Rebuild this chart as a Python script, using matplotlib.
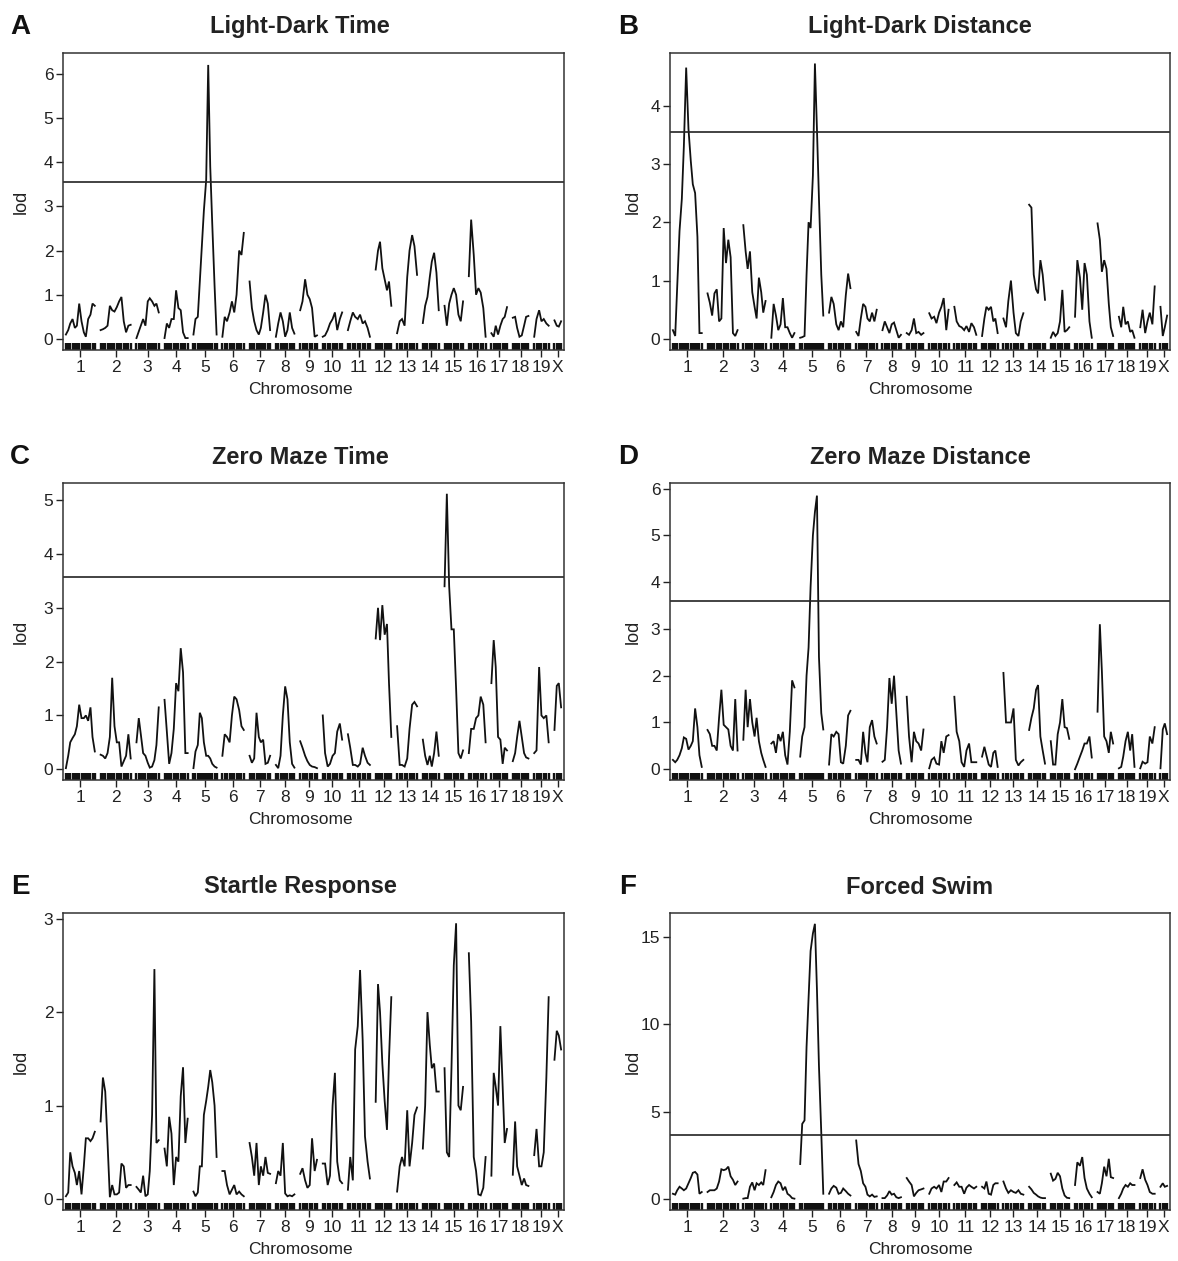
import matplotlib
matplotlib.use("Agg")
import matplotlib.pyplot as plt
from matplotlib.transforms import blended_transform_factory

plt.rcParams['font.family'] = ['Liberation Sans', 'DejaVu Sans']

# ---------------- data ----------------
chrom_names = ['1', '2', '3', '4', '5', '6', '7', '8', '9', '10',
               '11', '12', '13', '14', '15', '16', '17', '18', '19', 'X']
chrom_len = [100, 104, 77, 80, 80, 74, 71, 64, 58, 67,
             76, 54, 69, 55, 64, 58, 54, 54, 50, 23]
gap = 20

marker_pos = [
    [0, 8, 15, 23, 31, 38, 46, 54, 62, 69, 77, 85, 92, 100],
    [0, 8, 16, 24, 32, 40, 48, 56, 64, 72, 80, 88, 96, 104],
    [0, 8, 15, 23, 31, 39, 46, 54, 62, 69, 77],
    [0, 8, 16, 24, 32, 40, 48, 56, 64, 72, 80],
    [0, 7, 15, 22, 29, 36, 44, 51, 58, 65, 73, 80],
    [0, 8, 16, 25, 33, 41, 49, 58, 66, 74],
    [0, 8, 16, 24, 32, 39, 47, 55, 63, 71],
    [0, 8, 16, 24, 32, 40, 48, 56, 64],
    [0, 8, 17, 25, 33, 41, 50, 58],
    [0, 8, 17, 25, 34, 42, 50, 59, 67],
    [0, 8, 17, 25, 34, 42, 51, 59, 68, 76],
    [0, 8, 15, 23, 31, 39, 46, 54],
    [0, 9, 17, 26, 35, 43, 52, 60, 69],
    [0, 8, 16, 24, 31, 39, 47, 55],
    [0, 8, 16, 24, 32, 40, 48, 56, 64],
    [0, 8, 17, 25, 33, 41, 50, 58],
    [0, 8, 15, 23, 31, 39, 46, 54],
    [0, 8, 15, 23, 31, 39, 46, 54],
    [0, 8, 17, 25, 33, 42, 50],
    [0, 8, 15, 23],
]

lod_A = [
    [0.1, 0.2, 0.35, 0.45, 0.25, 0.3, 0.8, 0.4, 0.15, 0.05, 0.45, 0.55, 0.8, 0.75],
    [0.2, 0.22, 0.25, 0.3, 0.75, 0.65, 0.62, 0.72, 0.85, 0.95, 0.4, 0.15, 0.3, 0.32],
    [0.02, 0.17, 0.3, 0.45, 0.3, 0.85, 0.92, 0.85, 0.75, 0.8, 0.6],
    [0.02, 0.35, 0.25, 0.45, 0.45, 1.1, 0.7, 0.65, 0.15, 0.02, 0.02],
    [0.1, 0.45, 0.5, 1.3, 2.1, 2.9, 3.6, 6.2, 3.9, 2.6, 1.2, 0.1],
    [0.05, 0.5, 0.4, 0.6, 0.85, 0.6, 1.0, 2.0, 1.9, 2.4],
    [1.3, 0.7, 0.4, 0.2, 0.1, 0.25, 0.6, 1.0, 0.8, 0.2],
    [0.05, 0.35, 0.6, 0.4, 0.05, 0.2, 0.6, 0.25, 0.12],
    [0.65, 0.85, 1.35, 1.0, 0.9, 0.7, 0.05, 0.08],
    [0.05, 0.08, 0.2, 0.35, 0.45, 0.6, 0.2, 0.45, 0.6],
    [0.2, 0.4, 0.6, 0.5, 0.45, 0.55, 0.35, 0.4, 0.25, 0.05],
    [1.57, 2.0, 2.2, 1.6, 1.35, 1.1, 1.3, 0.75],
    [0.13, 0.4, 0.45, 0.3, 1.4, 2.0, 2.35, 2.1, 1.45],
    [0.36, 0.75, 0.95, 1.4, 1.75, 1.95, 1.5, 0.65],
    [0.75, 0.3, 0.8, 1.0, 1.15, 1.0, 0.55, 0.4, 0.85],
    [1.42, 2.7, 1.9, 1.0, 1.15, 1.05, 0.7, 0.05],
    [0.13, 0.05, 0.3, 0.1, 0.3, 0.45, 0.5, 0.72],
    [0.48, 0.5, 0.25, 0.05, 0.08, 0.3, 0.5, 0.52],
    [0.05, 0.45, 0.65, 0.4, 0.45, 0.35, 0.3],
    [0.42, 0.3, 0.28, 0.4],
]

lod_B = [
    [0.15, 0.05, 0.9, 1.85, 2.4, 3.3, 4.65, 3.6, 3.05, 2.65, 2.5, 1.75, 0.1, 0.1],
    [0.78, 0.62, 0.4, 0.78, 0.85, 0.3, 0.35, 1.9, 1.3, 1.7, 1.4, 0.1, 0.05, 0.15],
    [1.95, 1.5, 1.2, 1.5, 0.8, 0.55, 0.35, 1.05, 0.8, 0.45, 0.65],
    [0.02, 0.6, 0.4, 0.15, 0.25, 0.7, 0.2, 0.2, 0.1, 0.02, 0.1],
    [0.02, 0.03, 0.05, 1.1, 2.0, 1.9, 2.8, 4.72, 3.6, 2.4, 1.1, 0.4],
    [0.45, 0.72, 0.6, 0.25, 0.15, 0.3, 0.2, 0.75, 1.12, 0.87],
    [0.12, 0.05, 0.35, 0.6, 0.55, 0.35, 0.3, 0.45, 0.3, 0.5],
    [0.15, 0.3, 0.2, 0.1, 0.25, 0.28, 0.15, 0.02, 0.07],
    [0.1, 0.07, 0.15, 0.35, 0.1, 0.12, 0.07, 0.1],
    [0.44, 0.35, 0.38, 0.27, 0.45, 0.55, 0.7, 0.15, 0.5],
    [0.55, 0.3, 0.22, 0.2, 0.15, 0.22, 0.12, 0.27, 0.2, 0.07],
    [0.05, 0.35, 0.55, 0.5, 0.55, 0.3, 0.35, 0.1],
    [0.35, 0.2, 0.65, 1.0, 0.45, 0.1, 0.05, 0.3, 0.44],
    [2.3, 2.25, 1.1, 0.85, 0.78, 1.35, 1.1, 0.67],
    [0.02, 0.12, 0.05, 0.1, 0.3, 0.84, 0.12, 0.15, 0.2],
    [0.38, 1.35, 1.05, 0.5, 1.3, 1.1, 0.3, 0.02],
    [1.98, 1.7, 1.15, 1.35, 1.2, 0.6, 0.2, 0.05],
    [0.38, 0.2, 0.55, 0.25, 0.3, 0.12, 0.15, 0.02],
    [0.2, 0.5, 0.1, 0.3, 0.45, 0.25, 0.9],
    [0.55, 0.05, 0.2, 0.4],
]

lod_C = [
    [0.02, 0.25, 0.5, 0.58, 0.65, 0.8, 1.2, 0.95, 0.95, 1.0, 0.9, 1.15, 0.6, 0.33],
    [0.27, 0.25, 0.2, 0.3, 0.6, 1.7, 0.8, 0.5, 0.5, 0.05, 0.15, 0.25, 0.65, 0.2],
    [0.5, 0.95, 0.65, 0.3, 0.25, 0.12, 0.03, 0.05, 0.17, 0.45, 1.15],
    [1.29, 0.7, 0.1, 0.3, 0.75, 1.6, 1.45, 2.25, 1.8, 0.3, 0.3],
    [0.02, 0.33, 0.45, 1.05, 0.95, 0.5, 0.25, 0.25, 0.2, 0.1, 0.05, 0.03],
    [0.25, 0.65, 0.6, 0.5, 1.0, 1.35, 1.3, 1.1, 0.8, 0.73],
    [0.25, 0.12, 0.2, 1.05, 0.6, 0.5, 0.55, 0.1, 0.12, 0.25],
    [0.08, 0.02, 0.25, 1.0, 1.54, 1.3, 0.5, 0.1, 0.03],
    [0.52, 0.4, 0.25, 0.15, 0.08, 0.05, 0.04, 0.02],
    [1.0, 0.3, 0.05, 0.1, 0.25, 0.3, 0.7, 0.85, 0.55],
    [0.65, 0.4, 0.08, 0.08, 0.05, 0.1, 0.4, 0.25, 0.12, 0.08],
    [2.43, 3.0, 2.4, 3.05, 2.5, 2.7, 1.6, 0.6],
    [0.8, 0.08, 0.08, 0.05, 0.2, 0.75, 1.2, 1.25, 1.17],
    [0.55, 0.25, 0.08, 0.25, 0.05, 0.3, 0.7, 0.25],
    [3.4, 5.12, 3.4, 2.6, 2.6, 1.5, 0.3, 0.2, 0.35],
    [0.3, 0.75, 0.75, 0.95, 1.0, 1.35, 1.2, 0.5],
    [1.6, 2.4, 1.9, 0.6, 0.55, 0.1, 0.4, 0.35],
    [0.15, 0.3, 0.6, 0.9, 0.6, 0.3, 0.22, 0.2],
    [0.3, 0.35, 1.9, 1.0, 0.95, 1.0, 0.5],
    [0.73, 1.55, 1.6, 1.15],
]

lod_D = [
    [0.2, 0.15, 0.2, 0.3, 0.45, 0.68, 0.65, 0.42, 0.5, 0.6, 1.3, 0.9, 0.3, 0.05],
    [0.84, 0.75, 0.5, 0.5, 0.4, 1.1, 1.7, 0.95, 0.9, 0.85, 0.5, 0.4, 1.5, 0.4],
    [0.63, 1.7, 0.9, 1.5, 1.0, 0.7, 1.1, 0.6, 0.35, 0.2, 0.05],
    [0.55, 0.6, 0.35, 0.75, 0.6, 0.8, 0.3, 0.1, 0.8, 1.9, 1.75],
    [0.27, 0.7, 0.9, 2.0, 2.6, 3.9, 5.0, 5.5, 5.85, 2.4, 1.2, 0.85],
    [0.1, 0.75, 0.7, 0.8, 0.75, 0.15, 0.12, 0.5, 1.15, 1.25],
    [0.2, 0.2, 0.1, 0.8, 0.35, 0.15, 0.9, 1.05, 0.7, 0.55],
    [0.16, 0.2, 0.9, 1.95, 1.4, 2.0, 1.2, 0.4, 0.12],
    [1.55, 0.7, 0.15, 0.8, 0.6, 0.55, 0.4, 0.85],
    [0.02, 0.2, 0.25, 0.12, 0.1, 0.6, 0.35, 0.7, 0.73],
    [1.55, 0.8, 0.6, 0.15, 0.05, 0.4, 0.55, 0.15, 0.15, 0.15],
    [0.27, 0.48, 0.3, 0.1, 0.05, 0.35, 0.4, 0.05],
    [2.06, 1.0, 1.0, 1.0, 1.3, 0.2, 0.08, 0.15, 0.2],
    [0.84, 1.1, 1.3, 1.7, 1.8, 0.7, 0.4, 0.12],
    [0.6, 0.1, 0.1, 0.75, 1.0, 1.5, 0.9, 0.88, 0.65],
    [0.0, 0.12, 0.27, 0.4, 0.55, 0.55, 0.7, 0.25],
    [1.23, 3.1, 2.1, 0.7, 0.6, 0.35, 0.8, 0.55],
    [0.02, 0.05, 0.27, 0.6, 0.8, 0.4, 0.75, 0.05],
    [0.02, 0.16, 0.12, 0.15, 0.7, 0.55, 0.9],
    [0.02, 0.85, 0.98, 0.75],
]

lod_E = [
    [0.03, 0.07, 0.5, 0.35, 0.28, 0.15, 0.3, 0.05, 0.35, 0.65, 0.65, 0.62, 0.65, 0.72],
    [0.83, 1.3, 1.15, 0.6, 0.02, 0.15, 0.05, 0.05, 0.07, 0.38, 0.35, 0.12, 0.15, 0.15],
    [0.13, 0.1, 0.07, 0.25, 0.03, 0.05, 0.3, 0.9, 2.46, 0.6, 0.63],
    [0.54, 0.35, 0.88, 0.7, 0.15, 0.45, 0.4, 1.1, 1.41, 0.6, 0.86],
    [0.08, 0.03, 0.07, 0.35, 0.35, 0.9, 1.05, 1.2, 1.38, 1.25, 1.0, 0.45],
    [0.3, 0.3, 0.15, 0.05, 0.1, 0.15, 0.05, 0.08, 0.05, 0.03],
    [0.6, 0.45, 0.25, 0.6, 0.15, 0.35, 0.25, 0.45, 0.28, 0.27],
    [0.17, 0.3, 0.25, 0.6, 0.06, 0.03, 0.04, 0.03, 0.05],
    [0.27, 0.33, 0.2, 0.12, 0.15, 0.65, 0.3, 0.42],
    [0.38, 0.38, 0.15, 0.25, 1.0, 1.35, 0.4, 0.2, 0.17],
    [0.1, 0.45, 0.2, 1.6, 1.85, 2.45, 1.7, 0.67, 0.4, 0.22],
    [1.04, 2.3, 2.0, 1.45, 1.05, 0.74, 1.5, 2.16],
    [0.08, 0.35, 0.45, 0.35, 0.95, 0.35, 0.6, 0.9, 0.98],
    [0.54, 1.0, 2.0, 1.65, 1.4, 1.45, 1.15, 1.15],
    [1.4, 0.5, 0.45, 1.4, 2.5, 2.95, 1.0, 0.95, 1.2],
    [2.63, 1.9, 0.45, 0.3, 0.05, 0.04, 0.12, 0.45],
    [0.25, 1.35, 1.2, 1.0, 1.85, 1.2, 0.6, 0.75],
    [0.26, 0.83, 0.35, 0.25, 0.15, 0.22, 0.15, 0.14],
    [0.47, 0.75, 0.35, 0.35, 0.5, 1.3, 2.16],
    [1.49, 1.8, 1.75, 1.6],
]

lod_F = [
    [0.3, 0.25, 0.5, 0.7, 0.6, 0.5, 0.6, 0.9, 1.2, 1.5, 1.55, 1.4, 0.3, 0.4],
    [0.4, 0.5, 0.5, 0.5, 0.6, 1.0, 1.7, 1.65, 1.7, 1.85, 1.3, 1.1, 0.8, 1.0],
    [0.02, 0.05, 0.05, 0.7, 0.95, 0.5, 0.9, 0.8, 0.95, 0.8, 1.65],
    [0.1, 0.4, 0.8, 1.0, 0.9, 0.5, 0.7, 0.3, 0.2, 0.05, 0.02],
    [2.0, 4.3, 4.5, 8.7, 11.5, 14.2, 15.2, 15.75, 12.0, 7.6, 3.8, 0.3],
    [0.3, 0.6, 0.75, 0.65, 0.3, 0.35, 0.6, 0.45, 0.3, 0.2],
    [3.35, 2.0, 1.6, 0.9, 0.7, 0.25, 0.15, 0.25, 0.12, 0.15],
    [0.05, 0.05, 0.2, 0.45, 0.25, 0.3, 0.1, 0.05, 0.1],
    [1.2, 1.0, 0.8, 0.15, 0.35, 0.5, 0.55, 0.6],
    [0.3, 0.6, 0.7, 0.6, 0.8, 0.4, 1.0, 1.0, 1.2],
    [0.8, 0.95, 0.7, 0.7, 0.3, 0.65, 0.8, 0.7, 0.6, 0.7],
    [0.7, 0.6, 1.0, 0.3, 0.25, 0.8, 0.9, 0.9],
    [1.0, 0.6, 0.35, 0.5, 0.4, 0.35, 0.5, 0.3, 0.25],
    [0.7, 0.55, 0.35, 0.25, 0.15, 0.08, 0.05, 0.05],
    [1.45, 1.05, 1.15, 1.5, 1.3, 0.6, 0.2, 0.07, 0.05],
    [0.8, 2.1, 1.9, 2.4, 1.2, 0.6, 0.3, 0.1],
    [0.4, 0.3, 0.9, 1.85, 1.3, 2.3, 1.25, 1.2],
    [0.05, 0.3, 0.6, 0.8, 0.7, 0.9, 0.8, 0.8],
    [1.2, 1.7, 1.1, 0.8, 0.4, 0.3, 0.3],
    [0.7, 0.9, 0.7, 0.75],
]

panel_letters = ['A', 'B', 'C', 'D', 'E', 'F']
panel_titles = ['Light-Dark Time', 'Light-Dark Distance', 'Zero Maze Time',
                'Zero Maze Distance', 'Startle Response', 'Forced Swim']
panel_lods = [lod_A, lod_B, lod_C, lod_D, lod_E, lod_F]
thresholds = [3.55, 3.54, 3.57, 3.60, None, 3.64]
y_ranges = [(-0.25, 6.47), (-0.19, 4.9), (-0.2, 5.32), (-0.23, 6.12), (-0.117, 3.06), (-0.63, 16.37)]
y_ticks = [[0, 1, 2, 3, 4, 5, 6], [0, 1, 2, 3, 4], [0, 1, 2, 3, 4, 5],
           [0, 1, 2, 3, 4, 5, 6], [0, 1, 2, 3], [0, 5, 10, 15]]

# ---------------- layout ----------------
W, H = 1178, 1261
fig = plt.figure(figsize=(W / 100, H / 100), dpi=100)

col_x = [(63, 564), (670, 1170)]
row_y = [(53, 350), (483, 780), (913, 1210)]
title_y = [27, 457, 887]
label_y = [390, 820, 1250]
text_cx = [300, 920]
letter_x = [20, 628]
lod_x = [21, 633]

offsets = []
acc = gap / 2
for L in chrom_len:
    offsets.append(acc)
    acc += L + gap
x_total = acc - gap / 2
centers = [o + L / 2 for o, L in zip(offsets, chrom_len)]

for i in range(6):
    r, c = divmod(i, 2)
    x0, x1 = col_x[c]
    yt, yb = row_y[r]
    ax = fig.add_axes([x0 / W, 1 - yb / H, (x1 - x0) / W, (yb - yt) / H])
    lods = panel_lods[i]
    for k in range(20):
        xs = [offsets[k] + p for p in marker_pos[k]]
        ax.plot(xs, lods[k], color='#111111', lw=1.3, solid_joinstyle='miter')
    # rug of markers
    trans = blended_transform_factory(ax.transData, ax.transAxes)
    allx = [offsets[k] + p for k in range(20) for p in marker_pos[k]]
    ax.vlines(allx, 0, 0.022, transform=trans, color='#111111', lw=1.7)
    if thresholds[i] is not None:
        ax.axhline(thresholds[i], color='#222222', lw=1.2)
    ax.set_xlim(0, x_total)
    ax.set_ylim(*y_ranges[i])
    ax.set_yticks(y_ticks[i])
    ax.set_xticks(centers)
    ax.set_xticklabels(chrom_names)
    ax.tick_params(axis='both', direction='out', length=5, width=1,
                   labelsize=12.5, colors='#222222')
    ax.tick_params(axis='x', pad=2)
    ax.tick_params(axis='y', pad=2)
    for s in ax.spines.values():
        s.set_linewidth(1.1)
        s.set_color('#333333')

    fig.text(text_cx[c] / W, 1 - title_y[r] / H, panel_titles[i],
             ha='center', va='center', fontsize=17, fontweight='bold', color='#222222')
    fig.text(letter_x[c] / W, 1 - title_y[r] / H, panel_letters[i],
             ha='center', va='center', fontsize=20, fontweight='bold', color='#111111')
    fig.text(text_cx[c] / W, 1 - label_y[r] / H, 'Chromosome',
             ha='center', va='center', fontsize=12.5, color='#222222')
    fig.text(lod_x[c] / W, 1 - ((yt + yb) / 2) / H, 'lod', rotation=90,
             ha='center', va='center', fontsize=13, color='#222222')

fig.savefig('out.png', dpi=100, facecolor='white')
